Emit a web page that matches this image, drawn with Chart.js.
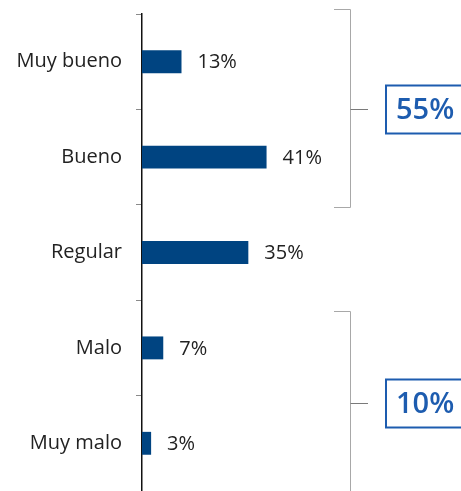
<!DOCTYPE html>
<html lang="es">
<head>
<meta charset="utf-8">
<title>Valoración</title>
<script src="https://cdn.jsdelivr.net/npm/chart.js@4/dist/chart.umd.min.js"></script>
<style>
  html, body { margin: 0; padding: 0; background: #fff; }
  #wrap { width: 461px; height: 491px; }
</style>
</head>
<body>
<div id="wrap"><canvas id="c" width="461" height="491"></canvas></div>
<script>
// Survey answers and their shares (%)
const categories = ['Muy bueno', 'Bueno', 'Regular', 'Malo', 'Muy malo'];
const shares = [13, 41, 35, 7, 3];
// Grouped totals shown next to the brackets
const groupLabels = ['55%', '10%'];
const groupFirst = [0, 3];
const groupLast = [1, 4];

const FAMILY = '"Open Sans", Roboto, "Noto Sans", sans-serif';
const LABEL_FONT = '400 20px ' + FAMILY;
const TEXT_COLOR = '#222222';
const BAR_COLOR = '#004481';
const GROUP_COLOR = '#1d5caf';

// Value labels to the right of each bar
const valueLabels = {
  id: 'valueLabels',
  afterDatasetsDraw(chart) {
    const ctx = chart.ctx;
    const meta = chart.getDatasetMeta(0);
    ctx.save();
    ctx.font = LABEL_FONT;
    ctx.fillStyle = TEXT_COLOR;
    ctx.textAlign = 'left';
    ctx.textBaseline = 'middle';
    meta.data.forEach((bar, i) => {
      ctx.fillText(shares[i] + '%', bar.x + 16, bar.y + 1);
    });
    ctx.restore();
  }
};

// Brackets grouping positive / negative answers, with boxed totals
const groupBrackets = {
  id: 'groupBrackets',
  afterDraw(chart) {
    const ctx = chart.ctx;
    const y = chart.scales.y;
    const band = (y.getPixelForValue(1) - y.getPixelForValue(0));
    const xStub = 334, xLine = 350.5, xTick = 368;
    ctx.save();
    groupLabels.forEach((label, g) => {
      const top = Math.round(y.getPixelForValue(groupFirst[g]) - band * 0.5) - (g === 0 ? 5 : -11) + 0.5;
      const bottom = Math.round(y.getPixelForValue(groupLast[g]) + band * 0.5) + (g === 0 ? 2 : 3) + 0.5;
      const mid = Math.round((top + bottom) / 2) + 0.5;
      ctx.strokeStyle = '#a8a8a8';
      ctx.lineWidth = 1;
      ctx.beginPath();
      ctx.moveTo(xStub, top);
      ctx.lineTo(xLine, top);
      ctx.lineTo(xLine, bottom);
      ctx.lineTo(xStub, bottom);
      ctx.stroke();
      ctx.strokeStyle = '#7a7a7a';
      ctx.beginPath();
      ctx.moveTo(xLine, mid);
      ctx.lineTo(xTick, mid);
      ctx.stroke();
      // boxed total
      ctx.strokeStyle = GROUP_COLOR;
      ctx.lineWidth = 2;
      ctx.strokeRect(386, mid - 24, 80, 48);
      ctx.fillStyle = GROUP_COLOR;
      ctx.font = '600 29px ' + FAMILY;
      ctx.textAlign = 'left';
      ctx.textBaseline = 'middle';
      ctx.fillText(label, 396, mid + 1);
    });
    ctx.restore();
  }
};

new Chart(document.getElementById('c'), {
  type: 'bar',
  data: {
    labels: categories,
    datasets: [{
      data: shares,
      backgroundColor: BAR_COLOR,
      borderWidth: 0,
      barPercentage: 0.24,
      categoryPercentage: 1
    }]
  },
  options: {
    indexAxis: 'y',
    responsive: false,
    animation: false,
    devicePixelRatio: 1,
    layout: { padding: { top: 14, right: 0, bottom: 0, left: 0 } },
    plugins: {
      legend: { display: false },
      tooltip: { enabled: false }
    },
    scales: {
      x: {
        display: false,
        min: 0,
        max: 105
      },
      y: {
        afterFit(scale) {
          scale.width = 142;
          scale.paddingTop = 0;
          scale.paddingBottom = 0;
        },
        border: { display: true, color: '#111111', width: 1.5 },
        grid: {
          offset: true,
          drawOnChartArea: false,
          drawTicks: true,
          tickLength: 6,
          color: '#8a8a8a',
          lineWidth: 1
        },
        ticks: {
          padding: 14,
          color: TEXT_COLOR,
          font: { family: FAMILY, size: 20, weight: '400' }
        }
      }
    }
  },
  plugins: [valueLabels, groupBrackets]
});
</script>
</body>
</html>
